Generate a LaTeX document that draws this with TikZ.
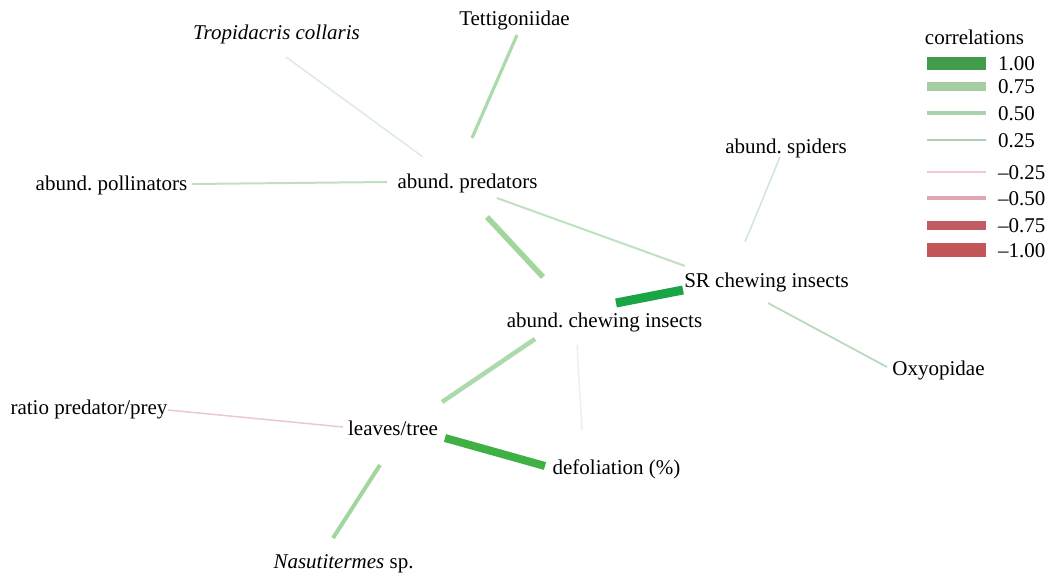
\documentclass[tikz,border=0pt]{standalone}
\usepackage{fontspec}
\setmainfont{Liberation Serif}
\usetikzlibrary{calc}
\frenchspacing
\definecolor{eStrong}{RGB}{25,165,70}
\definecolor{eStrongB}{RGB}{62,176,68}
\definecolor{eMid}{RGB}{162,214,158}
\definecolor{eMidB}{RGB}{172,218,172}
\definecolor{eLight}{RGB}{190,225,190}
\definecolor{eFaint}{RGB}{222,236,222}
\definecolor{eVFaint}{RGB}{234,241,234}
\definecolor{eSpid}{RGB}{208,230,212}
\definecolor{eOxy}{RGB}{185,218,192}
\definecolor{ePink}{RGB}{236,200,206}
\definecolor{lg100}{RGB}{66,156,76}
\definecolor{lg075}{RGB}{166,206,162}
\definecolor{lg050}{RGB}{170,210,172}
\definecolor{lg025}{RGB}{172,208,180}
\definecolor{lr025}{RGB}{240,200,206}
\definecolor{lr050}{RGB}{226,166,176}
\definecolor{lr075}{RGB}{192,92,98}
\definecolor{lr100}{RGB}{196,86,90}
\begin{document}
\begin{tikzpicture}[x=1pt,y=-1pt,
  lab/.style={inner sep=0pt,text height=15pt,text depth=0pt,font=\fontsize{21}{25}\selectfont\frenchspacing},
  leglab/.style={lab,anchor=west},
  corr/.style={line cap=butt}]
\useasboundingbox (0,0) rectangle (1051,573);
% labels
\node[lab] (tropi) at (276.5,32) {\textit{Tropidacris collaris}};
\node[lab] (tett) at (514.5,18) {Tettigoniidae};
\node[lab] (poll) at (111.5,183) {abund. pollinators};
\node[lab] (pred) at (467.5,181) {abund. predators};
\node[lab] (spid) at (786,146) {abund. spiders};
\node[lab] (sr) at (766.5,280) {SR chewing insects};
\node[lab] (chew) at (604.5,320) {abund. chewing insects};
\node[lab] (oxy) at (938.5,368) {Oxyopidae};
\node[lab] (ratio) at (89,407) {ratio predator/prey};
\node[lab] (leaves) at (393,428) {leaves/tree};
\node[lab] (defol) at (616.5,467) {defoliation (\%)};
\node[lab] (nasu) at (343.5,561) {\textit{Nasutitermes} sp.};
% connectors
\draw[corr,eFaint,line width=1.6] ($(tropi)+(9.5,25)$) -- ($(pred)+(-44.5,-24)$);
\draw[corr,eMidB,line width=3.2] ($(tett)+(2.5,17)$) -- ($(pred)+(4.5,-43)$);
\draw[corr,eLight,line width=2] ($(poll)+(80.5,1)$) -- ($(pred)+(-80.5,1)$);
\draw[corr,eMid,line width=5.5] ($(pred)+(19.5,36)$) -- ($(chew)+(-61.5,-43)$);
\draw[corr,eLight,line width=2] ($(pred)+(29.5,17)$) -- ($(sr)+(-81.5,-14)$);
\draw[corr,eSpid,line width=1.5] ($(spid)+(-6,11)$) -- ($(sr)+(-21.5,-38)$);
\draw[corr,eStrong,line width=9] ($(chew)+(11.5,-17)$) -- ($(sr)+(-83.5,10)$);
\draw[corr,eOxy,line width=1.8] ($(sr)+(1.5,23)$) -- ($(oxy)+(-51.5,-1)$);
\draw[corr,eMidB,line width=4.5] ($(chew)+(-69.5,19)$) -- ($(leaves)+(49,-26)$);
\draw[corr,eVFaint,line width=1.5] ($(chew)+(-27.5,25)$) -- ($(defol)+(-34.5,-37)$);
\draw[corr,ePink,line width=1.5] ($(ratio)+(79,3)$) -- ($(leaves)+(-50,-1)$);
\draw[corr,eStrongB,line width=8] ($(leaves)+(52,10)$) -- ($(defol)+(-71.5,-1)$);
\draw[corr,eMid,line width=4] ($(leaves)+(-13,37)$) -- ($(nasu)+(-10.5,-23)$);
% legend
\node[lab] (corrt) at (974.5,37) {correlations};
\node[leglab] (l1) at (998,63) {1.00};
\node[leglab] (l2) at (998,86) {0.75};
\node[leglab] (l3) at (998,113) {0.50};
\node[leglab] (l4) at (998,140) {0.25};
\node[leglab] (l5) at (998,172) {--0.25};
\node[leglab] (l6) at (998,198) {--0.50};
\node[leglab] (l7) at (998,225) {--0.75};
\node[leglab] (l8) at (998,250) {--1.00};
\draw[corr,lg100,line width=13] ($(l1.west)+(-71,0)$) -- ++(59,0);
\draw[corr,lg075,line width=9] ($(l2.west)+(-71,0)$) -- ++(59,0);
\draw[corr,lg050,line width=4.5] ($(l3.west)+(-71,0)$) -- ++(59,0);
\draw[corr,lg025,line width=2.5] ($(l4.west)+(-71,0)$) -- ++(59,0);
\draw[corr,lr025,line width=2.5] ($(l5.west)+(-71,0)$) -- ++(59,0);
\draw[corr,lr050,line width=4.5] ($(l6.west)+(-71,0)$) -- ++(59,0);
\draw[corr,lr075,line width=9] ($(l7.west)+(-71,0)$) -- ++(59,0);
\draw[corr,lr100,line width=14] ($(l8.west)+(-71,0)$) -- ++(59,0);
\end{tikzpicture}
\end{document}
